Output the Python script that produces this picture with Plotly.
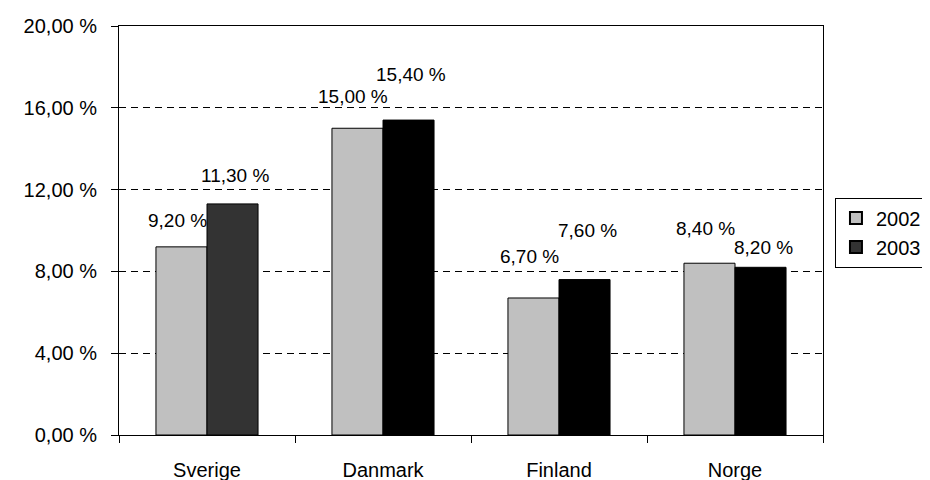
import plotly.graph_objects as go

categories = ["Sverige", "Danmark", "Finland", "Norge"]
years = ["2002", "2003"]
values_2002 = [9.20, 15.00, 6.70, 8.40]
values_2003 = [11.30, 15.40, 7.60, 8.20]
colors_2002 = ["#C0C0C0"] * 4
colors_2003 = ["#333333", "#000000", "#000000", "#000000"]
y_ticks = [0, 4, 8, 12, 16, 20]

# label placement (pixels above the bar top), style only
yshift_2002 = [26, 32, 41, 35]
yshift_2003 = [28, 46, 49, 20]

FONT = "Liberation Sans, Arial, sans-serif"


def fmt(v):
    return f"{v:.2f}".replace(".", ",") + " %"


fig = go.Figure()
fig.add_trace(go.Bar(name=years[0], x=categories, y=values_2002,
                     marker=dict(color=colors_2002, line=dict(color="black", width=1))))
fig.add_trace(go.Bar(name=years[1], x=categories, y=values_2003,
                     marker=dict(color=colors_2003, line=dict(color="black", width=1))))

for cat, v, ys in zip(categories, values_2002, yshift_2002):
    fig.add_annotation(x=cat, y=v, text=fmt(v), showarrow=False, xshift=-30, yshift=ys,
                       font=dict(family=FONT, size=19, color="black"))
for cat, v, ys in zip(categories, values_2003, yshift_2003):
    fig.add_annotation(x=cat, y=v, text=fmt(v), showarrow=False, xshift=28, yshift=ys,
                       font=dict(family=FONT, size=19, color="black"))

fig.update_layout(
    width=930, height=480,
    margin=dict(l=111, r=115, t=18, b=53, autoexpand=False),
    paper_bgcolor="white", plot_bgcolor="white",
    barmode="group", bargap=0.42, bargroupgap=0,
    font=dict(family=FONT, size=20, color="black"),
    showlegend=True,
    legend=dict(x=1.017, y=0.495, xanchor="left", yanchor="middle",
                bordercolor="black", borderwidth=1, bgcolor="white",
                font=dict(family=FONT, size=20, color="black"),
                itemsizing="constant", itemwidth=30, tracegroupgap=4),
)
fig.update_yaxes(range=[0, 20], tickvals=y_ticks, ticktext=[fmt(t) for t in y_ticks],
                 showgrid=True, gridcolor="black", griddash="7px,5px", gridwidth=1,
                 showline=True, linecolor="black", linewidth=1, mirror=True,
                 ticks="outside", ticklen=7, tickcolor="black", zeroline=False,
                 ticklabelstandoff=10,
                 tickfont=dict(family=FONT, size=20))
fig.update_xaxes(showline=True, linecolor="black", linewidth=1, mirror=True,
                 ticks="outside", tickson="boundaries", ticklen=7, tickcolor="black",
                 ticklabelstandoff=17,
                 tickfont=dict(family=FONT, size=20))

fig.write_html("out.html")
